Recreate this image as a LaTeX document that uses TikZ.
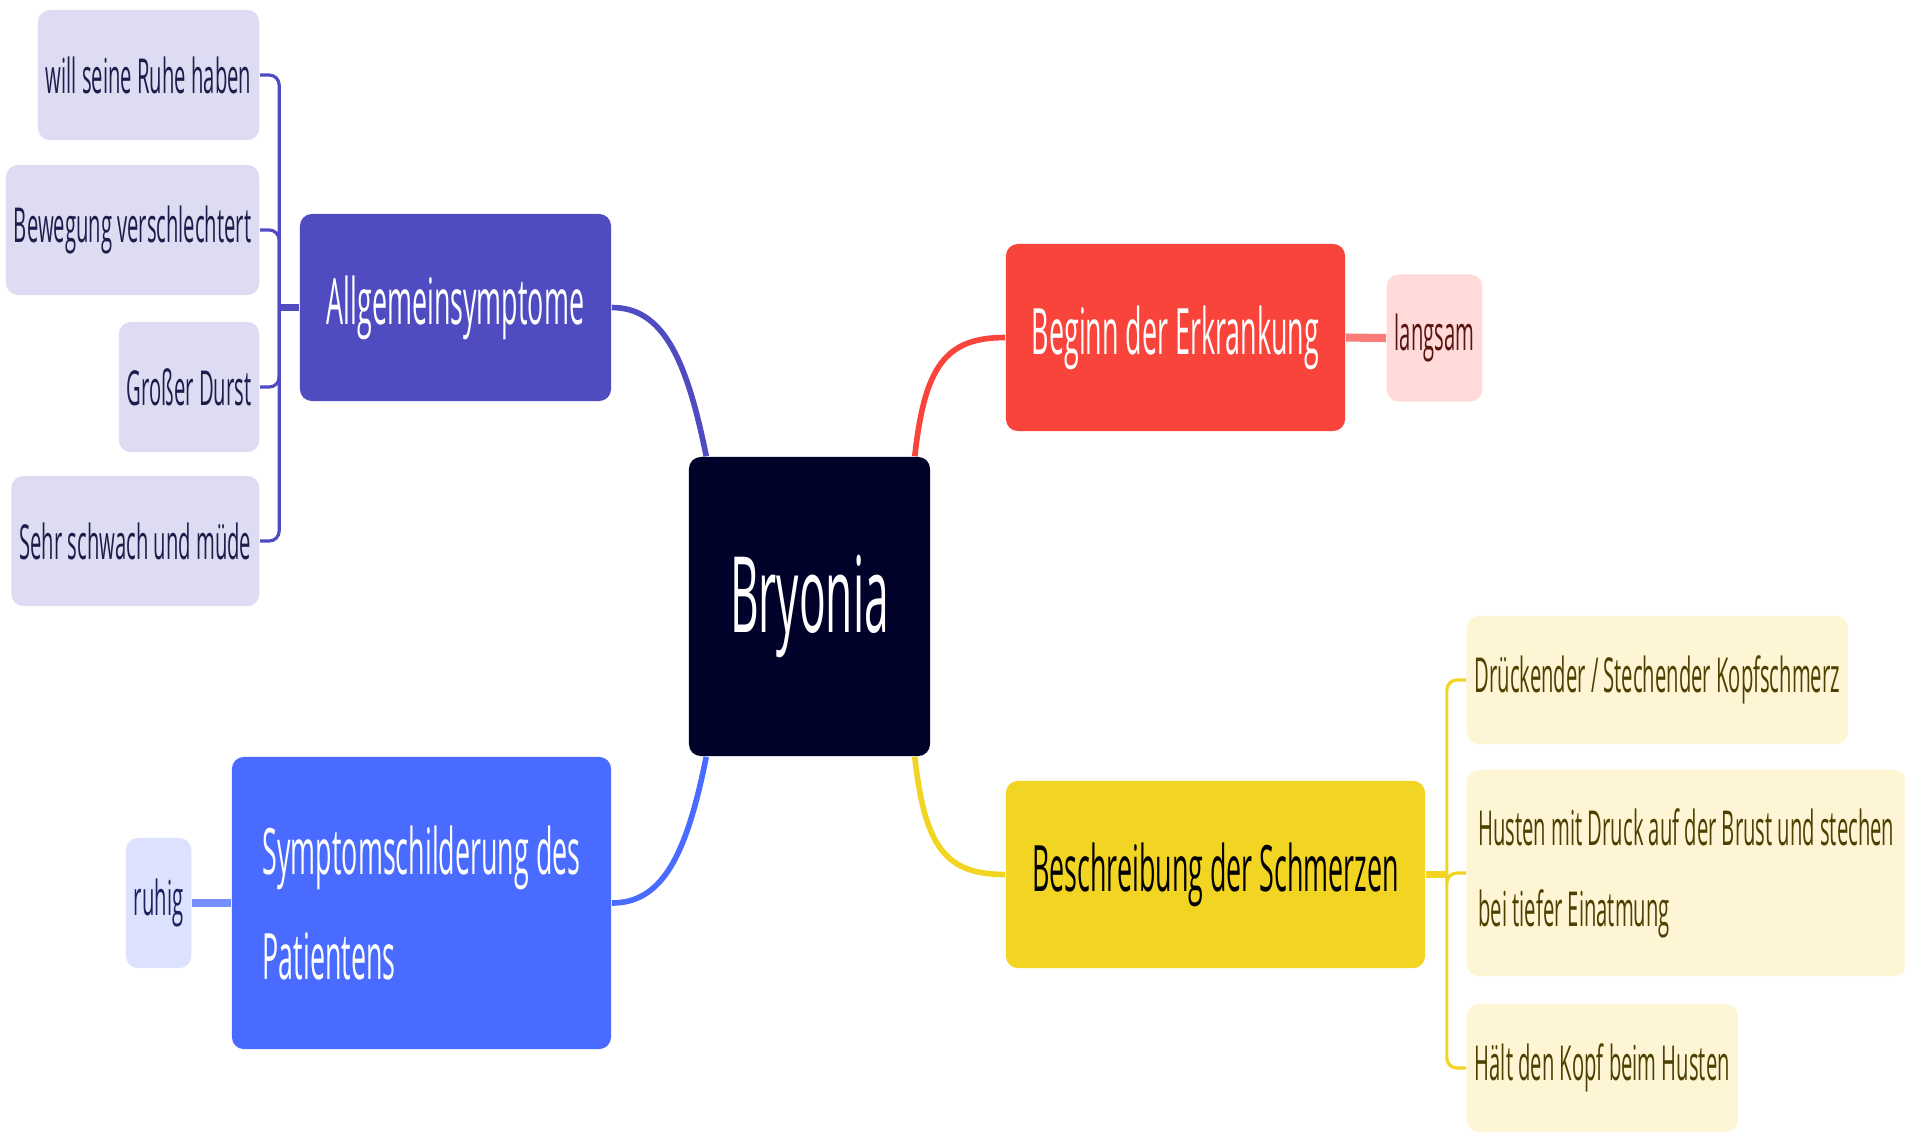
\documentclass[tikz,border=0pt]{standalone}
\usepackage{fontspec}
\setmainfont{Open Sans}[FakeStretch=0.42]
\definecolor{bryfill}{HTML}{000229}
\definecolor{allgcol}{HTML}{4F4CC1}
\definecolor{redcol}{HTML}{F9443C}
\definecolor{yelcol}{HTML}{F2D422}
\definecolor{bluecol}{HTML}{4A6BFF}
\definecolor{lav}{HTML}{DDDCF2}
\definecolor{pink}{HTML}{FFDAD8}
\definecolor{lblue}{HTML}{DCE1FD}
\definecolor{cream}{HTML}{FDF5D3}
\definecolor{lavtext}{HTML}{1E1C4A}
\definecolor{creamtext}{HTML}{4D4000}
\definecolor{pinktext}{HTML}{5A1410}
\definecolor{lbluetext}{HTML}{1A2260}
\begin{document}
\begin{tikzpicture}[x=.01cm, y=-.01cm,
    box/.style={rounded corners=.12cm, inner xsep=.25cm, minimum height=1.87cm, text=white, font=\fontsize{18.2}{30}\selectfont},
    leaf/.style={rounded corners=.12cm, inner xsep=.08cm, minimum height=1.3cm, font=\fontsize{13.7}{23}\selectfont},
    link/.style={line width=1.6pt},
    twig/.style={line width=.9pt, rounded corners=.1cm}]
\useasboundingbox (0,0) rectangle (1905,1132);
% centre and main branches
\node[fill=bryfill, rounded corners=.12cm, minimum width=2.41cm, minimum height=2.99cm, text=white, font=\fontsize{30}{36}\selectfont] (bry) at (809.5,606.5) {Bryonia};
\node[box, fill=allgcol, minimum width=3.11cm] (allg) at (455.5,307.5) {Allgemeinsymptome};
\node[box, fill=redcol, minimum width=3.39cm] (beginn) at (1175.5,337.5) {Beginn der Erkrankung};
\node[box, fill=yelcol, text=black, minimum width=4.19cm] (besch) at (1215.5,874.5) {Beschreibung der Schmerzen};
\node[box, fill=bluecol, minimum height=2.92cm, minimum width=3.79cm, align=left] (sympt) at (421.5,903) {Symptomschilderung des\\Patientens};
% leaves
\foreach \name/\y/\txt in {will/75/will seine Ruhe haben, beweg/230/Bewegung verschlechtert, durst/387/Großer Durst, sehr/541/Sehr schwach und müde}
{
    \node[leaf, fill=lav, text=lavtext, anchor=east] (\name) at (260,\y) {\txt};
}
\node[leaf, fill=pink, text=pinktext, anchor=west, minimum height=1.27cm] (lang) at (1386,338) {langsam};
\node[leaf, fill=lblue, text=lbluetext, anchor=east] (ruhig) at (192,903) {ruhig};
\node[leaf, fill=cream, text=creamtext, anchor=west, minimum height=1.28cm] (kopf) at (1466,680) {Drückender / Stechender Kopfschmerz};
\node[leaf, fill=cream, text=creamtext, anchor=west, minimum height=2.06cm, minimum width=4.39cm, align=left] (husten) at (1466,873) {Husten mit Druck auf der Brust und stechen\\bei tiefer Einatmung};
\node[leaf, fill=cream, text=creamtext, anchor=west, minimum height=1.28cm] (haelt) at (1466,1068) {Hält den Kopf beim Husten};
% connectors
\draw[link, allgcol] (allg.east) .. controls +(50,0) and +(-20,-100) .. ([xshift=.18cm]bry.north west);
\draw[link, redcol] ([xshift=-.16cm]bry.north east) .. controls +(10,-90) and +(-60,0) .. (beginn.west);
\draw[link, yelcol] ([xshift=-.16cm]bry.south east) .. controls +(10,90) and +(-60,0) .. (besch.west);
\draw[link, bluecol] (sympt.east) .. controls +(50,0) and +(-20,100) .. ([xshift=.18cm]bry.south west);
\draw[redcol!70!white, line width=2.3pt] (beginn.east) -- (lang.west);
\draw[bluecol!75!white, line width=2.3pt] (ruhig.east) -- (sympt.west);
\coordinate (allgfork) at ([xshift=-.2cm]allg.west);
\draw[allgcol, line width=2pt] (allg.west) -- (allgfork);
\foreach \name in {will,beweg,durst,sehr}
{
    \draw[twig, allgcol] (allgfork) |- (\name.east);
}
\coordinate (beschfork) at ([xshift=.21cm]besch.east);
\draw[yelcol, line width=2pt] (besch.east) -- (beschfork);
\foreach \name in {kopf,husten,haelt}
{
    \draw[twig, yelcol] (beschfork) |- (\name.west);
}
\end{tikzpicture}
\end{document}
